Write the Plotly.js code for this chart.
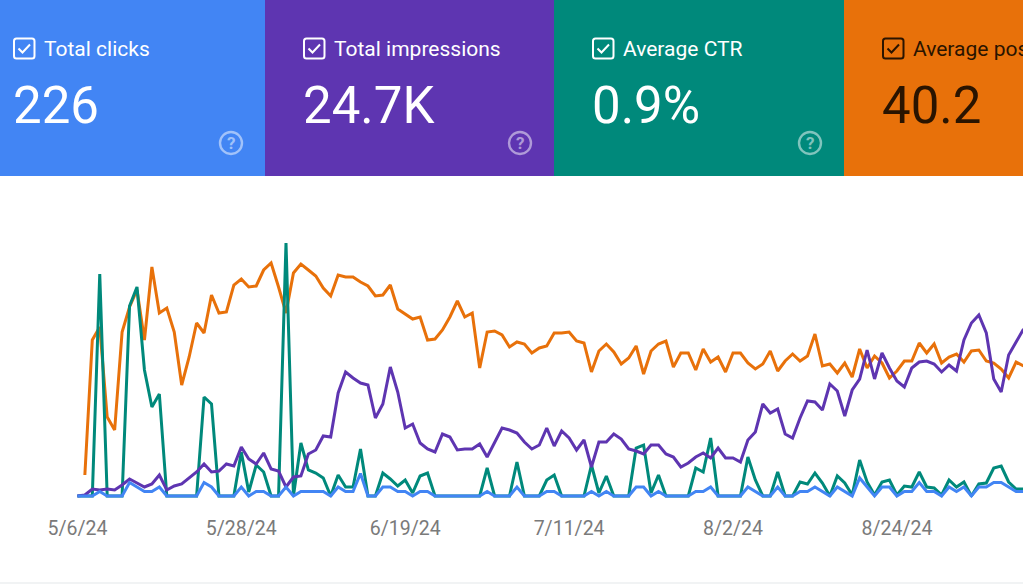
<!DOCTYPE html>
<html>
<head>
<meta charset="utf-8">
<script src="https://cdn.plot.ly/plotly-3.0.1.min.js"></script>
<style>html,body{margin:0;padding:0;background:#fff;overflow:hidden}#chart{width:1023px;height:584px}</style>
</head>
<body>
<div id="chart"></div>
<script>
const startDate = "2024-05-06";
const tickDates = ["2024-05-06","2024-05-28","2024-06-19","2024-07-11","2024-08-02","2024-08-24"];
const tickLabels = ["5/6/24","5/28/24","6/19/24","7/11/24","8/2/24","8/24/24"];

const position = [null,65.8,38.8,36.2,54.2,56.8,37.2,32.2,28.8,38.8,24.2,33.4,32.4,37.2,47.8,42.2,35.4,37.4,29.8,33.4,33.2,27.8,26.6,28.2,28,24.8,23.4,28.2,33.4,25.4,23.6,24.8,26,28.4,30,25.8,26.2,26.2,27.2,28,30,29.8,27.8,
32.6,33.6,34.6,34.2,38.8,38.6,36.8,34.2,31,34.2,33.4,44.4,37.2,37,37.8,40.2,39.2,39.6,41.4,40.4,40,37.4,37.4,37.2,39,39.4,45.2,41,39.6,41.2,43.6,42.4,40,45.6,41,39.6,39,44.2,41.4,41.4,44.8,
40.6,43.2,42.2,45.2,41.4,41.4,43.4,44.6,43.6,41,45,43,41.6,43,42,37.6,44,43.6,45.4,43.4,46.2,40.6,44.4,42,43.4,46.4,45,43,43,39.4,41.4,39.6,43.4,42.2,41.6,43.2,41,40.8,43,43.4,44.6,46.4,43.2,44];

const ctr = [0,0,0,11.1,0,0,0,9.5,10.45,6.3,4.45,5.1,0,0,0,0,0,4.95,4.6,0,0,0,2.2,0.2,1.55,1.2,0,0,12.65,0,2.65,1.3,1.15,0.9,0,1.05,0.45,0.45,2.35,0,0,1.15,0.85,
0.5,0.8,0.15,1,1.15,0,0,0,0,0,0,0,1.4,0,0,0,1.7,0,0,0,0.8,1.05,0,0,0,0,1.55,0.15,1,0,0,0,2.4,2.55,0.15,1.05,0,0,0,0,1.4,
1.2,2.9,0,0,0,0,1.95,0.8,0,0,1.2,0,0,0.7,0.6,1.15,0.65,0,1,0.65,0.05,1.8,0.7,0.05,0.7,0.8,0.05,0.5,0.45,1.2,0.45,0.4,0.05,0.8,0.45,0.7,0,0.6,0.65,1.4,1.5,0.7,0.35,0.35];

const impressions = [0,3,21,18,21,18,33,51,39,27,36,63,18,30,36,54,72,96,72,75,96,90,147,111,96,129,81,75,27,57,60,126,138,180,177,309,372,354,339,333,234,276,387,
312,204,216,159,141,132,186,177,138,141,141,156,117,159,204,198,189,162,141,153,204,150,195,174,138,168,87,162,162,186,171,141,135,126,153,153,126,117,87,99,117,
129,114,144,114,114,102,168,192,276,249,261,186,174,234,285,282,258,336,315,240,318,351,438,351,429,384,345,327,384,402,405,396,372,393,375,468,519,543,489,351,312,423,462,501];

const clicks = [0,0,0,1,0,0,0,3,2,1,1,2,0,0,0,0,0,3,2,0,0,0,2,0,1,1,0,0,2,0,1,1,1,1,0,2,1,1,5,0,0,2,2,
1,1,0,1,1,0,0,0,0,0,0,0,1,0,0,0,2,0,0,0,1,1,0,0,0,0,1,0,1,0,0,0,2,2,0,1,0,0,0,0,1,
1,2,0,0,0,0,2,1,0,0,2,0,0,1,1,2,1,0,2,1,0,4,2,0,2,2,0,1,1,3,1,1,0,2,1,2,0,2,2,3,3,2,1,1];

const cardNames = ["Total clicks","Total impressions","Average CTR","Average position"];
const cardValues = ["226","24.7K","0.9%","40.2"];
const cardColors = ["#4285f4","#5e35b1","#00897b","#e8710a"];
const lineColors = {clicks:"#4285f4",impressions:"#5e35b1",ctr:"#00897b",position:"#e8710a"};

const W = 1023, PH = 506;
const px = v => v / W, py = v => 1 - v / PH;
const DAY = 86400000, t0 = Date.UTC(2024,4,6);
const dates = position.map((_, i) => new Date(t0 + i * DAY).toISOString().slice(0,10));
const pxPerDay = 7.45, x0 = 77.4;
const xRange = [new Date(t0 - x0/pxPerDay*DAY).toISOString(), new Date(t0 + (W-x0)/pxPerDay*DAY).toISOString()];

const trace = (y, color, axis, name) => ({x:dates,y,type:'scatter',mode:'lines',name,yaxis:axis,
  connectgaps:false,cliponaxis:false,hoverinfo:'x+y',line:{color,width:3,shape:'linear'}});
const data = [
  trace(position, lineColors.position, 'y', 'Average position'),
  trace(ctr, lineColors.ctr, 'y2', 'Average CTR'),
  trace(impressions, lineColors.impressions, 'y3', 'Total impressions'),
  trace(clicks, lineColors.clicks, 'y4', 'Total clicks')
];

const cardEdges = [0,265,554,844,1023];
const shapes = [], annotations = [];
const P = (x,y) => px(x).toFixed(5)+','+py(y).toFixed(5);
cardNames.forEach((name,i) => {
  const l = cardEdges[i], r = cardEdges[i+1], dark = i === 3;
  const fg = dark ? '#2a1400' : '#ffffff';
  shapes.push({type:'rect',xref:'paper',yref:'paper',x0:px(l),x1:px(r),y0:py(176),y1:py(0),fillcolor:cardColors[i],line:{width:0},layer:'below'});
  const a = i === 0 ? 14 : l + 39, b = a + 20.5, c = 38.5, d = 58.5, k = 2.5;
  shapes.push({type:'path',xref:'paper',yref:'paper',line:{color:fg,width:2},
    path:`M ${P(a+k,c)} L ${P(b-k,c)} Q ${P(b,c)} ${P(b,c+k)} L ${P(b,d-k)} Q ${P(b,d)} ${P(b-k,d)} L ${P(a+k,d)} Q ${P(a,d)} ${P(a,d-k)} L ${P(a,c+k)} Q ${P(a,c)} ${P(a+k,c)} Z`});
  shapes.push({type:'path',xref:'paper',yref:'paper',line:{color:fg,width:2},
    path:`M ${P(a+4.5,c+10)} L ${P(a+8.5,c+14)} L ${P(a+16,c+6)}`});
  annotations.push({xref:'paper',yref:'paper',x:px(a+28.3),y:py(48.5),xanchor:'left',yanchor:'middle',showarrow:false,text:name,
    font:{family:'Roboto',size:21,color:fg,weight:400}});
  annotations.push({xref:'paper',yref:'paper',x:px(a-3),y:py(105.5),xanchor:'left',yanchor:'middle',showarrow:false,text:cardValues[i],
    font:{family:'Roboto',size:51,color:fg,weight:400}});
  if (!dark) {
    const cx = r - 34, cy = 143, R = 11, help = 'rgba(255,255,255,0.5)';
    shapes.push({type:'path',xref:'paper',yref:'paper',line:{color:help,width:2.4},
      path:`M ${P(cx-R,cy)} C ${P(cx-R,cy-R*0.55)} ${P(cx-R*0.55,cy-R)} ${P(cx,cy-R)} C ${P(cx+R*0.55,cy-R)} ${P(cx+R,cy-R*0.55)} ${P(cx+R,cy)} C ${P(cx+R,cy+R*0.55)} ${P(cx+R*0.55,cy+R)} ${P(cx,cy+R)} C ${P(cx-R*0.55,cy+R)} ${P(cx-R,cy+R*0.55)} ${P(cx-R,cy)} Z`});
    annotations.push({xref:'paper',yref:'paper',x:px(cx),y:py(143),xanchor:'center',yanchor:'middle',showarrow:false,text:'?',
      font:{family:'Roboto',size:17,color:help,weight:700}});
  }
});
shapes.push({type:'rect',xref:'paper',yref:'paper',x0:0,x1:1,y0:py(584),y1:py(582),fillcolor:'#f1f3f4',line:{width:0}});

const hidden = {showgrid:false,zeroline:false,showticklabels:false,showline:false,ticks:'',fixedrange:true};
const layout = {
  width:W,height:584,margin:{l:0,r:0,t:0,b:78,pad:0},paper_bgcolor:'#ffffff',plot_bgcolor:'rgba(0,0,0,0)',showlegend:false,
  font:{family:'Roboto'},
  xaxis:{type:'date',range:xRange,tickmode:'array',tickvals:tickDates,ticktext:tickLabels,showgrid:false,zeroline:false,showline:false,
    ticks:'outside',ticklen:5,tickcolor:'rgba(0,0,0,0)',tickfont:{family:'Roboto',size:19.5,color:'#7a7a7a'},fixedrange:true},
  yaxis:Object.assign({range:[72,-29.2]},hidden),
  yaxis2:Object.assign({range:[-0.5,24.8],overlaying:'y'},hidden),
  yaxis3:Object.assign({range:[-30,1488],overlaying:'y'},hidden),
  yaxis4:Object.assign({range:[-10/4.5,496/4.5],overlaying:'y'},hidden),
  shapes,annotations
};
Plotly.newPlot('chart',data,layout,{displayModeBar:false,staticPlot:true});
</script>
</body>
</html>
